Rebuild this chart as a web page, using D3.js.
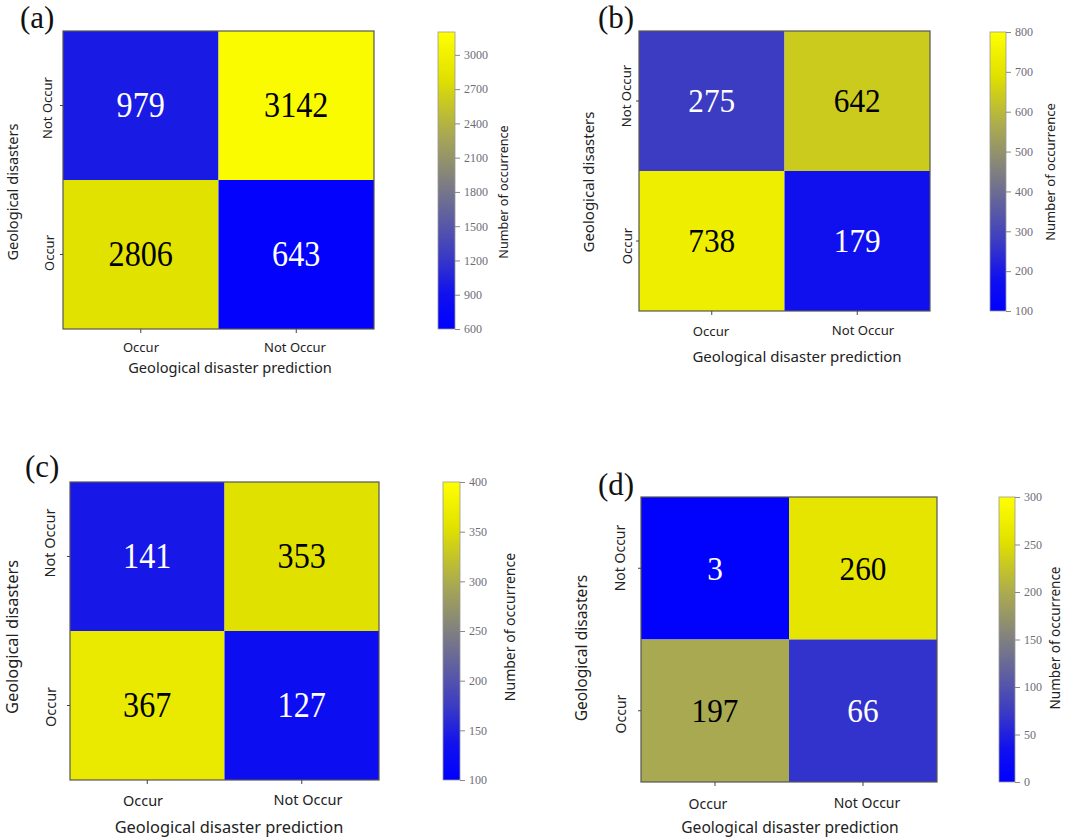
<!DOCTYPE html>
<html>
<head>
<meta charset="utf-8">
<script src="https://cdn.jsdelivr.net/npm/d3@7/dist/d3.min.js"></script>
<style>
  html, body { margin: 0; padding: 0; background: #fff; }
  svg { display: block; }
</style>
</head>
<body>
<div class="graph"></div>
<script>
const width = 1065,
      height = 838;

const predicted = ["Occur", "Not Occur"];
const actual = ["Not Occur", "Occur"];

// rows are actual Not Occur / Occur, columns are predicted Occur / Not Occur
const countsA = [[979, 3142], [2806, 643]];
const countsB = [[275, 642], [738, 179]];
const countsC = [[141, 353], [367, 127]];
const countsD = [[3, 260], [197, 66]];

const rangeA = [600, 3200];
const rangeB = [100, 800];
const rangeC = [100, 400];
const rangeD = [0, 300];

const ticksA = [600, 900, 1200, 1500, 1800, 2100, 2400, 2700, 3000];
const ticksB = [100, 200, 300, 400, 500, 600, 700, 800];
const ticksC = [100, 150, 200, 250, 300, 350, 400];
const ticksD = [0, 50, 100, 150, 200, 250, 300];

const panelLetters = ["(a)", "(b)", "(c)", "(d)"];
const xTitle = "Geological disaster prediction";
const yTitle = "Geological disasters";
const barTitle = "Number of occurrence";

// blue - gray - yellow map, the blue channel runs out before the top
const mapPos = [0, 0.12, 0.25, 0.5, 0.66, 0.78, 0.84, 1];
const mapCol = ["#0000ff", "#1111ee", "#3c3cc3", "#808080", "#aaaa50", "#cdcd1c", "#e0e000", "#ffff00"];

const sans = "'Noto Sans', sans-serif";
const serif = "'Liberation Serif', serif";

const svg = d3.select(".graph")
  .append("svg")
  .attr("width", width)
  .attr("height", height);

const grad = svg.append("defs")
  .append("linearGradient")
  .attr("id", "barGrad")
  .attr("x1", 0).attr("y1", 1)
  .attr("x2", 0).attr("y2", 0);
mapPos.forEach((d, i) => {
  grad.append("stop").attr("offset", d * 100 + "%").attr("stop-color", mapCol[i]);
});

function text(x, y, str, size, font) {
  return svg.append("text")
    .attr("x", x)
    .attr("y", y)
    .attr("font-size", size)
    .attr("font-family", font)
    .attr("fill", "#222")
    .attr("text-anchor", "middle")
    .attr("dominant-baseline", "central")
    .text(str);
}

function vtext(x, y, str, size) {
  return text(0, 0, str, size, sans)
    .attr("transform", `translate(${x},${y}) rotate(-90)`);
}

function drawPanel(p) {
  const x = d3.scaleBand().domain(predicted).range([p.left, p.right]);
  const y = d3.scaleBand().domain(actual).range([p.top, p.bottom]);
  const norm = d3.scaleLinear().domain(p.range).range([0, 1]);
  const cmap = d3.scaleLinear().domain(mapPos).range(mapCol);
  const color = v => cmap(norm(v));

  const cells = p.counts.flatMap((row, r) =>
    row.map((v, c) => ({ v: v, row: actual[r], col: predicted[c] })));

  svg.append("g")
    .selectAll("rect")
    .data(cells)
    .enter()
    .append("rect")
    .attr("x", d => x(d.col))
    .attr("y", d => y(d.row))
    .attr("width", x.bandwidth())
    .attr("height", y.bandwidth())
    .attr("fill", d => color(d.v));

  svg.append("g")
    .selectAll("text")
    .data(cells)
    .enter()
    .append("text")
    .attr("transform", d => `translate(${x(d.col) + x.bandwidth() / 2},${y(d.row) + y.bandwidth() / 2}) scale(0.92,1)`)
    .attr("text-anchor", "middle")
    .attr("dominant-baseline", "central")
    .attr("font-family", serif)
    .attr("font-size", p.cellSize)
    .attr("fill", d => norm(d.v) < 0.5 ? "#fff" : "#000")
    .text(d => d.v);

  // frame and tick marks, tick labels are placed by hand below
  svg.append("rect")
    .attr("x", p.left).attr("y", p.top)
    .attr("width", p.right - p.left).attr("height", p.bottom - p.top)
    .attr("fill", "none").attr("stroke", "#555").attr("stroke-width", 1.2);

  const xAxis = svg.append("g")
    .attr("transform", `translate(0,${p.bottom})`)
    .call(d3.axisBottom(x).tickSize(4).tickFormat(""));
  const yAxis = svg.append("g")
    .attr("transform", `translate(${p.left},0)`)
    .call(d3.axisLeft(y).tickSize(3).tickFormat(""));
  [xAxis, yAxis].forEach(a => {
    a.select(".domain").remove();
    a.selectAll("line").attr("stroke", "#444");
  });

  predicted.forEach((d, i) => text(p.xTick[i][0], p.xTick[i][1], d, p.tickSize, sans));
  actual.forEach((d, i) => vtext(p.yTick[i][0], p.yTick[i][1], d, p.tickSize));
  text(p.xLabel[0], p.xLabel[1], xTitle, p.labelSize, sans);
  vtext(p.yLabel[0], p.yLabel[1], yTitle, p.labelSize);

  // colour bar
  const barY = d3.scaleLinear().domain(p.range).range([p.barBottom, p.top + p.barTopShift]);
  svg.append("rect")
    .attr("x", p.barLeft).attr("y", barY(p.range[1]))
    .attr("width", p.barRight - p.barLeft)
    .attr("height", barY(p.range[0]) - barY(p.range[1]))
    .attr("fill", "url(#barGrad)")
    .attr("stroke", "#999").attr("stroke-width", 0.8);

  const barAxis = svg.append("g")
    .attr("transform", `translate(${p.barRight},0)`)
    .call(d3.axisRight(barY).tickValues(p.ticks).tickSize(5).tickPadding(4).tickFormat(d3.format("d")));
  barAxis.select(".domain").remove();
  barAxis.selectAll("line").attr("stroke", "#888");
  barAxis.selectAll("text")
    .attr("font-family", serif)
    .attr("font-size", 12)
    .attr("fill", "#6d6d78");

  vtext(p.barLabel[0], p.barLabel[1], barTitle, p.barLabelSize);

  text(p.letter[0], p.letter[1], p.name, 31, serif)
    .attr("fill", "#111")
    .attr("text-anchor", "start")
    .attr("dominant-baseline", "auto");
}

const panels = [
  { name: panelLetters[0], counts: countsA, range: rangeA, ticks: ticksA,
    left: 63, right: 374, top: 31, bottom: 329, barTopShift: 1, barBottom: 329,
    barLeft: 438, barRight: 455, cellSize: 35, tickSize: 13, labelSize: 14.6, barLabelSize: 12.6,
    xTick: [[141, 347], [295, 347]], yTick: [[47, 108], [49, 253]],
    xLabel: [230, 367], yLabel: [12, 192], barLabel: [503, 192], letter: [20, 28] },
  { name: panelLetters[1], counts: countsB, range: rangeB, ticks: ticksB,
    left: 639, right: 930, top: 31, bottom: 311, barTopShift: 1, barBottom: 311,
    barLeft: 990, barRight: 1006, cellSize: 34, tickSize: 13.1, labelSize: 15, barLabelSize: 13,
    xTick: [[711, 331], [863, 330]], yTick: [[626, 96], [627, 246]],
    xLabel: [797, 356], yLabel: [588, 182], barLabel: [1050, 172], letter: [598, 28] },
  { name: panelLetters[2], counts: countsC, range: rangeC, ticks: ticksC,
    left: 70, right: 379, top: 482, bottom: 780, barTopShift: 0, barBottom: 780,
    barLeft: 443, barRight: 460, cellSize: 35, tickSize: 14.5, labelSize: 16.4, barLabelSize: 14,
    xTick: [[143, 800], [308, 799]], yTick: [[49, 543], [50, 707]],
    xLabel: [229, 826], yLabel: [11.5, 637], barLabel: [509, 627], letter: [25, 477] },
  { name: panelLetters[3], counts: countsD, range: rangeD, ticks: ticksD,
    left: 641, right: 937, top: 497, bottom: 782, barTopShift: 0, barBottom: 782,
    barLeft: 999, barRight: 1015, cellSize: 34, tickSize: 14, labelSize: 15.6, barLabelSize: 13.5,
    xTick: [[708, 803], [867, 802]], yTick: [[619, 558], [620, 714]],
    xLabel: [790, 827], yLabel: [581, 648], barLabel: [1055, 638], letter: [598, 495] }
];

panels.forEach(drawPanel);
</script>
</body>
</html>
